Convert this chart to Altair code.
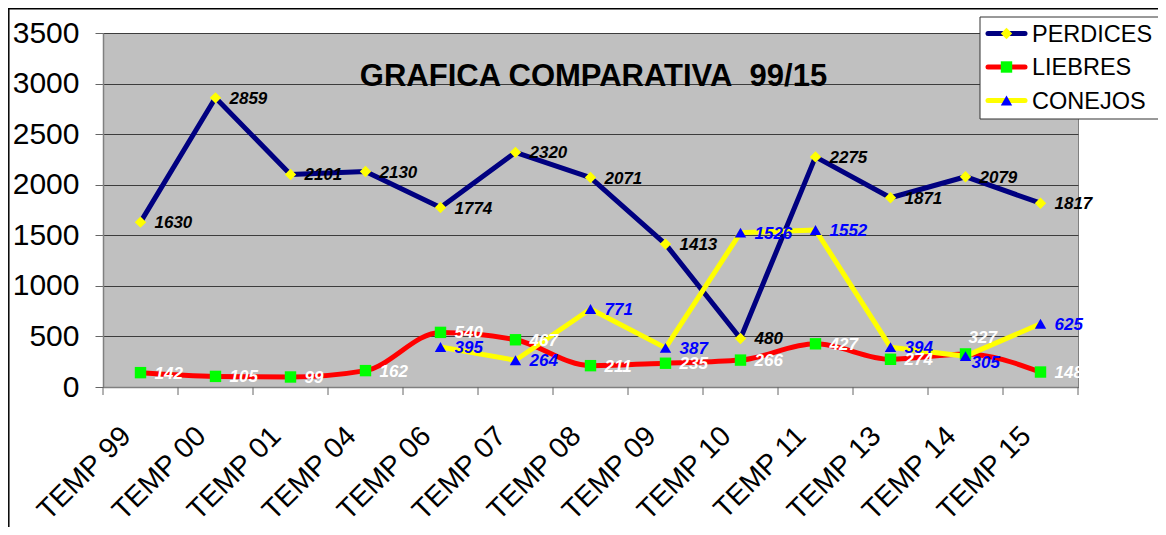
import json
import altair as alt
import pandas as pd

# ---- data ----
categorias = ["TEMP 99", "TEMP 00", "TEMP 01", "TEMP 04", "TEMP 06", "TEMP 07", "TEMP 08",
              "TEMP 09", "TEMP 10", "TEMP 11", "TEMP 13", "TEMP 14", "TEMP 15"]
perdices = [1630, 2859, 2101, 2130, 1774, 2320, 2071, 1413, 480, 2275, 1871, 2079, 1817]
liebres = [142, 105, 99, 162, 540, 467, 211, 235, 266, 427, 274, 327, 148]
conejos = [None, None, None, None, 395, 264, 771, 387, 1526, 1552, 394, 305, 625]
series = ["PERDICES", "LIEBRES", "CONEJOS"]
titulo = "GRAFICA COMPARATIVA\u00a0 99/15"
y_ticks = [0, 500, 1000, 1500, 2000, 2500, 3000, 3500]

# ---- styles ----
FONT = "Liberation Sans"
line_colors = ["#000080", "#FF0000", "#FFFF00"]
marker_colors = ["#FFFF00", "#00FF00", "#0000FF"]
label_colors = ["#000000", "#FFFFFF", "#0000FF"]
shapes = ["diamond", "square", "triangle-up"]
W, H = 975, 354

rows = []
for k, (s, vals) in enumerate(zip(series, [perdices, liebres, conejos])):
    for i, v in enumerate(vals):
        if v is not None:
            rows.append({"idx": i, "cat": categorias[i], "serie": s, "valor": v})
df = pd.DataFrame(rows)
df_b = pd.DataFrame({"b": [i - 0.5 for i in range(len(categorias) + 1)]})

xscale = alt.Scale(domain=[-0.5, len(categorias) - 0.5], nice=False, zero=False)
yscale = alt.Scale(domain=[0, 3500], nice=False)

xaxis = alt.Axis(values=list(range(len(categorias))),
                 labelExpr=json.dumps(categorias) + "[datum.value]",
                 title=None, labelAngle=-45, labelAlign="right", labelBaseline="middle",
                 labelFontSize=28.5, labelFont=FONT, labelColor="black",
                 labelPadding=44, labelOffset=-15, ticks=False, tickSize=0, grid=False,
                 domainColor="#808080", domainWidth=1.5, labelFlush=False,
                 labelOverlap=False, labelBound=False)
yaxis = alt.Axis(values=y_ticks, format="d", title=None, labelFontSize=30, labelFont=FONT,
                 labelColor="black", labelPadding=16, tickSize=8, tickColor="#666666",
                 domainColor="#808080", domainWidth=1.5, grid=True, gridColor="#3c3c3c",
                 gridWidth=1, labelFlush=False, labelOverlap=False)

x_enc = alt.X("idx:Q", scale=xscale, axis=xaxis)
y_enc = alt.Y("valor:Q", scale=yscale, axis=yaxis)

stroke_enc = alt.Stroke("serie:N", scale=alt.Scale(domain=series, range=line_colors),
                        legend=None)

base = alt.Chart(df)

line_layers = []
for s in series:
    interp = "monotone" if s == "LIEBRES" else "linear"
    line_layers.append(
        base.transform_filter(alt.datum.serie == s)
        .mark_line(strokeWidth=5, interpolate=interp, strokeJoin="round")
        .encode(x=x_enc, y=y_enc, stroke=stroke_enc))

ticks_x = alt.Chart(df_b).mark_rule(color="#666666", strokeWidth=1).encode(
    x=alt.X("b:Q", scale=xscale, axis=xaxis), y=alt.value(H), y2=alt.value(H + 8))

points = base.mark_point(filled=True, opacity=1, size=130).encode(
    x=x_enc, y=y_enc,
    fill=alt.Fill("serie:N", scale=alt.Scale(domain=series, range=marker_colors), legend=None),
    shape=alt.Shape("serie:N", scale=alt.Scale(domain=series, range=shapes), legend=None))

label_color = alt.Color("serie:N", scale=alt.Scale(domain=series, range=label_colors),
                        legend=None)
txt = dict(align="left", baseline="middle", font=FONT, fontSize=17,
           fontStyle="italic", fontWeight="bold")
special = (alt.datum.idx == 11) & (alt.datum.serie != "PERDICES")
labels = base.transform_filter(~special).mark_text(dx=14, dy=1, **txt).encode(
    x=x_enc, y=y_enc, text="valor:Q", color=label_color)
label_l14 = base.transform_filter((alt.datum.idx == 11) & (alt.datum.serie == "LIEBRES")) \
    .mark_text(dx=3, dy=-16, **txt).encode(x=x_enc, y=y_enc, text="valor:Q", color=label_color)
label_c14 = base.transform_filter((alt.datum.idx == 11) & (alt.datum.serie == "CONEJOS")) \
    .mark_text(dx=6, dy=7, **txt).encode(x=x_enc, y=y_enc, text="valor:Q", color=label_color)

title = alt.Chart(pd.DataFrame({"t": [titulo]})).mark_text(
    font=FONT, fontSize=31, fontWeight="bold", color="black",
    align="center", baseline="alphabetic").encode(
    text="t:N", x=alt.value(W / 2 + 3), y=alt.value(53))

# ---- legend box (drawn as marks, styled like the original) ----
LX, LY, LW, LH = 877, -16, 180, 102
legend_layers = [
    alt.Chart(pd.DataFrame({"k": [0]})).mark_rect(
        fill="white", stroke="#333333", strokeWidth=1).encode(
        x=alt.value(LX), x2=alt.value(LX + LW), y=alt.value(LY), y2=alt.value(LY + LH))
]
for i, s in enumerate(series):
    yc = LY + 16.5 + 33.5 * i
    d = alt.Chart(pd.DataFrame({"serie": [s]}))
    legend_layers.append(d.mark_rule(color=line_colors[i], strokeWidth=5, strokeCap="round").encode(
        x=alt.value(LX + 8), x2=alt.value(LX + 45), y=alt.value(yc)))
    legend_layers.append(d.mark_point(filled=True, opacity=1, size=130, shape=shapes[i],
                                      color=marker_colors[i]).encode(
        x=alt.value(LX + 26.5), y=alt.value(yc)))
    legend_layers.append(d.mark_text(align="left", baseline="middle", font=FONT, fontSize=23.5,
                                     color="black").encode(
        text="serie:N", x=alt.value(LX + 52), y=alt.value(yc + 1)))

frame = pd.DataFrame({"k": [0]})
border_left = alt.Chart(frame).mark_rule(color="black", strokeWidth=1.5).encode(
    x=alt.value(-94.2), y=alt.value(-25), y2=alt.value(H + 140))
border_top = alt.Chart(frame).mark_rule(color="black", strokeWidth=1.5).encode(
    x=alt.value(-95), x2=alt.value(W + 80), y=alt.value(-24.2))

chart = alt.layer(
    *line_layers, ticks_x, points, labels, label_l14, label_c14, title,
    *legend_layers, border_left, border_top
).properties(
    width=W, height=H,
    padding={"left": 95, "top": 25, "right": 80, "bottom": 140},
    autosize=alt.AutoSizeParams(type="none"),
    background="white",
).configure_view(
    fill="#C0C0C0", stroke="#808080", strokeWidth=1
)

chart.save("out.html", embed_options={"renderer": "svg", "actions": False})
